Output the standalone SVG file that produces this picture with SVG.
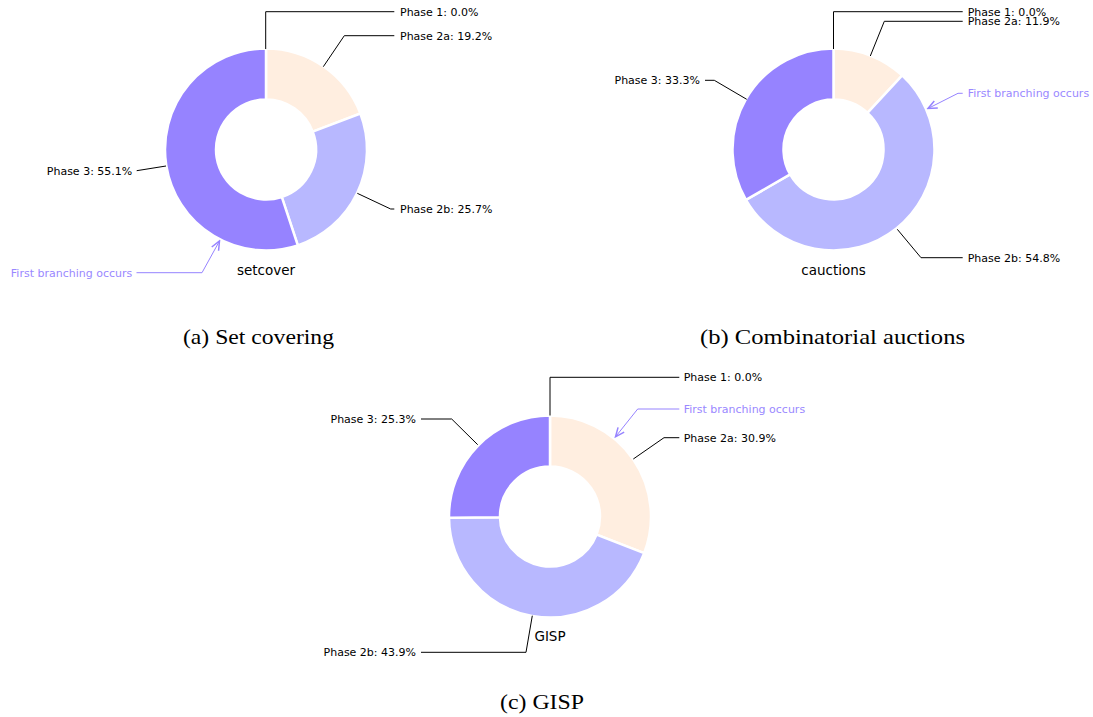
<svg xmlns="http://www.w3.org/2000/svg" width="1093" height="717" viewBox="0 0 1093 717">
<style>
.w{stroke:#fff;stroke-width:2.5;stroke-linejoin:miter}
.p2a{fill:#FFEEE0}
.p2b{fill:#B8B8FF}
.p3{fill:#9683FF}
.lbl{font-family:"DejaVu Sans",sans-serif;font-size:11px;fill:#000}
.ann{font-family:"DejaVu Sans",sans-serif;font-size:11px;fill:#9A88FF}
.ctr{font-family:"DejaVu Sans",sans-serif;font-size:13.5px;fill:#000;text-anchor:middle}
.cap{font-family:"Liberation Serif","Times New Roman",serif;font-size:22px;fill:#000;text-anchor:middle}
.ln{fill:none;stroke:#000;stroke-width:1}
.al{fill:none;stroke:#9683FF;stroke-width:1}
</style>
<defs>
<marker id="ah" markerUnits="userSpaceOnUse" markerWidth="12" markerHeight="12" viewBox="-7 -4 8 8" refX="0" refY="0" orient="auto">
<path d="M-6,-2.6 L0,0 L-6,2.6" fill="none" stroke="#9683FF" stroke-width="1"/>
</marker>
</defs>

<g id="chart-a">
<g id="a-phase2a"><path class="p2a w" d="M266,48.5 A101,101 0 0 1 360.37,113.5 L312.72,131.68 A50,50 0 0 0 266,99.5 Z"/></g>
<g id="a-phase2b"><path class="p2b w" d="M360.37,113.5 A101,101 0 0 1 297.81,245.36 L281.75,196.96 A50,50 0 0 0 312.72,131.68 Z"/></g>
<g id="a-phase3"><path class="p3 w" d="M297.81,245.36 A101,101 0 1 1 266,48.5 L266,99.5 A50,50 0 1 0 281.75,196.96 Z"/></g>
<text class="ctr" x="266" y="275">setcover</text>
</g>

<g id="chart-b">
<g id="b-phase2a"><path class="p2a w" d="M833.5,48.5 A101,101 0 0 1 902.19,75.45 L867.5,112.84 A50,50 0 0 0 833.5,99.5 Z"/></g>
<g id="b-phase2b"><path class="p2b w" d="M902.19,75.45 A101,101 0 1 1 745.93,199.82 L790.15,174.41 A50,50 0 1 0 867.5,112.84 Z"/></g>
<g id="b-phase3"><path class="p3 w" d="M745.93,199.82 A101,101 0 0 1 833.5,48.5 L833.5,99.5 A50,50 0 0 0 790.15,174.41 Z"/></g>
<text class="ctr" x="833.5" y="275">cauctions</text>
</g>

<g id="chart-c">
<g id="c-phase2a"><path class="p2a w" d="M550,415.5 A101,101 0 0 1 644.14,553.09 L596.6,534.61 A50,50 0 0 0 550,466.5 Z"/></g>
<g id="c-phase2b"><path class="p2b w" d="M644.14,553.09 A101,101 0 0 1 449.01,517.77 L500,517.13 A50,50 0 0 0 596.6,534.61 Z"/></g>
<g id="c-phase3"><path class="p3 w" d="M449.01,517.77 A101,101 0 0 1 550,415.5 L550,466.5 A50,50 0 0 0 500,517.13 Z"/></g>
<text class="ctr" x="550" y="641">GISP</text>
</g>

<g id="connectors">
<path class="ln" d="M265.7,49 L265.7,11.7 L394.3,11.7"/>
<path class="ln" d="M323.3,66.7 L344.3,35.7 L394.3,35.7"/>
<path class="ln" d="M357.3,193.3 L390.7,209 L394.3,209"/>
<path class="ln" d="M166,166 L136.7,170.7"/>
<path class="al" d="M136.5,272.7 L202,272.7 L219.5,241" marker-end="url(#ah)"/>

<path class="ln" d="M833.5,49 L833.5,11.7 L962.7,11.7"/>
<path class="ln" d="M870.3,56 L884.3,21.3 L962.7,21.3"/>
<path class="ln" d="M897.3,229.3 L921,257.7 L962.7,257.7"/>
<path class="ln" d="M746.7,99.3 L714.3,80.3 L705,80.3"/>
<path class="al" d="M962.7,93.3 L958,93.3 L928,108.5" marker-end="url(#ah)"/>

<path class="ln" d="M550,415.5 L550,377.3 L679.3,377.3"/>
<path class="ln" d="M633.3,459 L664,437.7 L679.3,437.7"/>
<path class="ln" d="M477.7,444.7 L451.7,419 L421,419"/>
<path class="ln" d="M532.3,615.7 L526,652.3 L421,652.3"/>
<path class="al" d="M679.3,409 L637.7,409 L615.5,436.8" marker-end="url(#ah)"/>
</g>

<g id="labels">
<text class="lbl" x="400" y="15.7">Phase 1: 0.0%</text>
<text class="lbl" x="400" y="39.7">Phase 2a: 19.2%</text>
<text class="lbl" x="400" y="213">Phase 2b: 25.7%</text>
<text class="lbl" x="132.3" y="174.7" text-anchor="end">Phase 3: 55.1%</text>
<text class="ann" x="132.3" y="276.7" text-anchor="end">First branching occurs</text>

<text class="lbl" x="967.7" y="15.7">Phase 1: 0.0%</text>
<text class="lbl" x="967.7" y="25.3">Phase 2a: 11.9%</text>
<text class="lbl" x="967.7" y="261.7">Phase 2b: 54.8%</text>
<text class="lbl" x="700" y="84.3" text-anchor="end">Phase 3: 33.3%</text>
<text class="ann" x="967.7" y="97.3">First branching occurs</text>

<text class="lbl" x="683.7" y="381.3">Phase 1: 0.0%</text>
<text class="ann" x="683.7" y="413">First branching occurs</text>
<text class="lbl" x="683.7" y="441.7">Phase 2a: 30.9%</text>
<text class="lbl" x="416" y="423" text-anchor="end">Phase 3: 25.3%</text>
<text class="lbl" x="416" y="656.3" text-anchor="end">Phase 2b: 43.9%</text>
</g>

<g id="captions">
<text class="cap" x="258.5" y="343.5" textLength="151" lengthAdjust="spacingAndGlyphs">(a) Set covering</text>
<text class="cap" x="832.5" y="343.5" textLength="265" lengthAdjust="spacingAndGlyphs">(b) Combinatorial auctions</text>
<text class="cap" x="542" y="709" textLength="84" lengthAdjust="spacingAndGlyphs">(c) GISP</text>
</g>
</svg>
